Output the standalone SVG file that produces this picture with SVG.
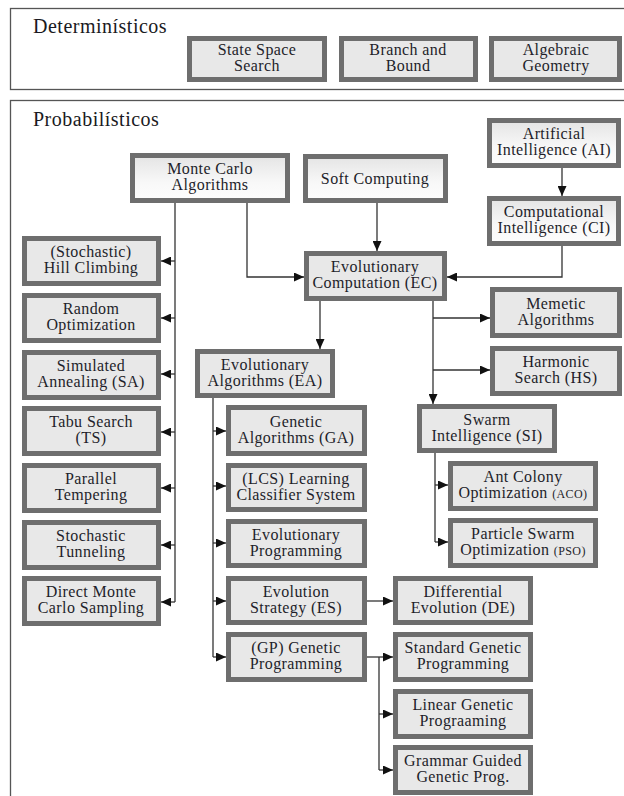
<svg xmlns="http://www.w3.org/2000/svg" width="624" height="796" viewBox="0 0 624 796" font-family="Liberation Serif, DejaVu Serif, serif">
<defs>
<style>
.frame{fill:none;stroke:#555;stroke-width:1.3}
.hdr{font-size:20px;fill:#1a1a22;letter-spacing:0.5px}
.box{fill:#e8e8e8;stroke:#6e6e6e;stroke-width:5}
.gbox{fill:url(#g);stroke:#6e6e6e;stroke-width:5}
.t{font-size:16px;fill:#1e1e2a;text-anchor:middle;letter-spacing:0.4px}
.sm{font-size:12px}
.c{fill:none;stroke:#333;stroke-width:1.3}
</style>
<linearGradient id="g" x1="0" y1="0" x2="0" y2="1">
<stop offset="0" stop-color="#e4e4e4"/>
<stop offset="0.6" stop-color="#f8f8f8"/>
<stop offset="1" stop-color="#fdfdfd"/>
</linearGradient>
<marker id="a" markerUnits="userSpaceOnUse" markerWidth="10" markerHeight="9" refX="10" refY="4.5" orient="auto">
<path d="M0,0 L10,4.5 L0,9 z" fill="#111"/>
</marker>
</defs>

<rect class="frame" x="10.5" y="8.5" width="625" height="81"/>
<text class="hdr" x="33" y="33">Determinísticos</text>
<rect class="frame" x="10.5" y="100.5" width="625" height="710"/>
<text class="hdr" x="33" y="126">Probabilísticos</text>

<g id="connectors">
<path class="c" d="M377 203 V251" marker-end="url(#a)"/>
<path class="c" d="M562 168 V196" marker-end="url(#a)"/>
<path class="c" d="M562 246 V277 H447" marker-end="url(#a)"/>
<path class="c" d="M247 203 V277 H304" marker-end="url(#a)"/>
<path class="c" d="M175 203 V602"/>
<path class="c" d="M175 261 H161" marker-end="url(#a)"/>
<path class="c" d="M175 318 H161" marker-end="url(#a)"/>
<path class="c" d="M175 374 H161" marker-end="url(#a)"/>
<path class="c" d="M175 432 H161" marker-end="url(#a)"/>
<path class="c" d="M175 488 H161" marker-end="url(#a)"/>
<path class="c" d="M175 545 H161" marker-end="url(#a)"/>
<path class="c" d="M175 602 H161" marker-end="url(#a)"/>
<path class="c" d="M320 301 V349" marker-end="url(#a)"/>
<path class="c" d="M433 301 V404" marker-end="url(#a)"/>
<path class="c" d="M433 318 H490" marker-end="url(#a)"/>
<path class="c" d="M433 370 H490" marker-end="url(#a)"/>
<path class="c" d="M435 453 V542"/>
<path class="c" d="M435 485 H448" marker-end="url(#a)"/>
<path class="c" d="M435 542 H448" marker-end="url(#a)"/>
<path class="c" d="M213 398 V657"/>
<path class="c" d="M213 431 H226" marker-end="url(#a)"/>
<path class="c" d="M213 486 H226" marker-end="url(#a)"/>
<path class="c" d="M213 543 H226" marker-end="url(#a)"/>
<path class="c" d="M213 601 H226" marker-end="url(#a)"/>
<path class="c" d="M213 657 H226" marker-end="url(#a)"/>
<path class="c" d="M367 601 H393" marker-end="url(#a)"/>
<path class="c" d="M367 657 H393" marker-end="url(#a)"/>
<path class="c" d="M379 657 V770"/>
<path class="c" d="M379 714 H393" marker-end="url(#a)"/>
<path class="c" d="M379 770 H393" marker-end="url(#a)"/>
</g>

<g id="sss"><rect class="box" x="189.5" y="38.5" width="135" height="41"/><text class="t" x="257" y="55">State Space</text><text class="t" x="257" y="71">Search</text></g>
<g id="bab"><rect class="box" x="341.5" y="38.5" width="134" height="41"/><text class="t" x="408" y="55">Branch and</text><text class="t" x="408" y="71">Bound</text></g>
<g id="ag"><rect class="box" x="491.5" y="38.5" width="128" height="41"/><text class="t" x="556" y="55">Algebraic</text><text class="t" x="556" y="71">Geometry</text></g>

<g id="mc"><rect class="gbox" x="132.5" y="155.5" width="155" height="45"/><text class="t" x="210" y="174">Monte Carlo</text><text class="t" x="210" y="190">Algorithms</text></g>
<g id="sc"><rect class="gbox" x="305.5" y="156.5" width="140" height="44"/><text class="t" x="375" y="184">Soft Computing</text></g>
<g id="ai"><rect class="gbox" x="489.5" y="120.5" width="129" height="45"/><text class="t" x="554" y="139">Artificial</text><text class="t" x="554" y="155">Intelligence (AI)</text></g>
<g id="ci"><rect class="gbox" x="489.5" y="198.5" width="129" height="45"/><text class="t" x="554" y="217">Computational</text><text class="t" x="554" y="233">Intelligence (CI)</text></g>
<g id="ec"><rect class="box" x="306.5" y="253.5" width="138" height="45"/><text class="t" x="375" y="272">Evolutionary</text><text class="t" x="375" y="288">Computation (EC)</text></g>

<g id="hc"><rect class="box" x="24.5" y="238.5" width="134" height="45"/><text class="t" x="91" y="257">(Stochastic)</text><text class="t" x="91" y="273">Hill Climbing</text></g>
<g id="ro"><rect class="box" x="24.5" y="295.5" width="134" height="45"/><text class="t" x="91" y="314">Random</text><text class="t" x="91" y="330">Optimization</text></g>
<g id="sa"><rect class="box" x="24.5" y="352.5" width="134" height="45"/><text class="t" x="91" y="371">Simulated</text><text class="t" x="91" y="387">Annealing (SA)</text></g>
<g id="ts"><rect class="box" x="24.5" y="408.5" width="134" height="45"/><text class="t" x="91" y="427">Tabu Search</text><text class="t" x="91" y="443">(TS)</text></g>
<g id="pt"><rect class="box" x="24.5" y="465.5" width="134" height="45"/><text class="t" x="91" y="484">Parallel</text><text class="t" x="91" y="500">Tempering</text></g>
<g id="st"><rect class="box" x="24.5" y="522.5" width="134" height="45"/><text class="t" x="91" y="541">Stochastic</text><text class="t" x="91" y="557">Tunneling</text></g>
<g id="dmc"><rect class="box" x="24.5" y="578.5" width="134" height="45"/><text class="t" x="91" y="597">Direct Monte</text><text class="t" x="91" y="613">Carlo Sampling</text></g>

<g id="ea"><rect class="box" x="197.5" y="351.5" width="135" height="44"/><text class="t" x="265" y="370">Evolutionary</text><text class="t" x="265" y="386">Algorithms (EA)</text></g>
<g id="ma"><rect class="box" x="492.5" y="289.5" width="127" height="46"/><text class="t" x="556" y="309">Memetic</text><text class="t" x="556" y="325">Algorithms</text></g>
<g id="hs"><rect class="box" x="492.5" y="348.5" width="127" height="45"/><text class="t" x="556" y="367">Harmonic</text><text class="t" x="556" y="383">Search (HS)</text></g>
<g id="si"><rect class="box" x="419.5" y="406.5" width="135" height="44"/><text class="t" x="487" y="425">Swarm</text><text class="t" x="487" y="441">Intelligence (SI)</text></g>
<g id="aco"><rect class="box" x="450.5" y="463.5" width="145" height="45"/><text class="t" x="523" y="482">Ant Colony</text><text class="t" x="523" y="498">Optimization <tspan class="sm">(ACO)</tspan></text></g>
<g id="pso"><rect class="box" x="450.5" y="520.5" width="145" height="45"/><text class="t" x="523" y="539">Particle Swarm</text><text class="t" x="523" y="555">Optimization <tspan class="sm">(PSO)</tspan></text></g>

<g id="ga"><rect class="box" x="228.5" y="407.5" width="136" height="46"/><text class="t" x="296" y="427">Genetic</text><text class="t" x="296" y="443">Algorithms (GA)</text></g>
<g id="lcs"><rect class="box" x="228.5" y="465.5" width="136" height="44"/><text class="t" x="296" y="484">(LCS) Learning</text><text class="t" x="296" y="500">Classifier System</text></g>
<g id="ep"><rect class="box" x="228.5" y="521.5" width="136" height="44"/><text class="t" x="296" y="540">Evolutionary</text><text class="t" x="296" y="556">Programming</text></g>
<g id="es"><rect class="box" x="228.5" y="578.5" width="136" height="44"/><text class="t" x="296" y="597">Evolution</text><text class="t" x="296" y="613">Strategy (ES)</text></g>
<g id="gp"><rect class="box" x="228.5" y="634.5" width="136" height="45"/><text class="t" x="296" y="653">(GP) Genetic</text><text class="t" x="296" y="669">Programming</text></g>

<g id="de"><rect class="box" x="395.5" y="578.5" width="135" height="44"/><text class="t" x="463" y="597">Differential</text><text class="t" x="463" y="613">Evolution (DE)</text></g>
<g id="sgp"><rect class="box" x="395.5" y="634.5" width="135" height="45"/><text class="t" x="463" y="653">Standard Genetic</text><text class="t" x="463" y="669">Programming</text></g>
<g id="lgp"><rect class="box" x="395.5" y="691.5" width="135" height="45"/><text class="t" x="463" y="710">Linear Genetic</text><text class="t" x="463" y="726">Prograaming</text></g>
<g id="ggg"><rect class="box" x="395.5" y="747.5" width="135" height="45"/><text class="t" x="463" y="766">Grammar Guided</text><text class="t" x="463" y="782">Genetic Prog.</text></g>
</svg>
